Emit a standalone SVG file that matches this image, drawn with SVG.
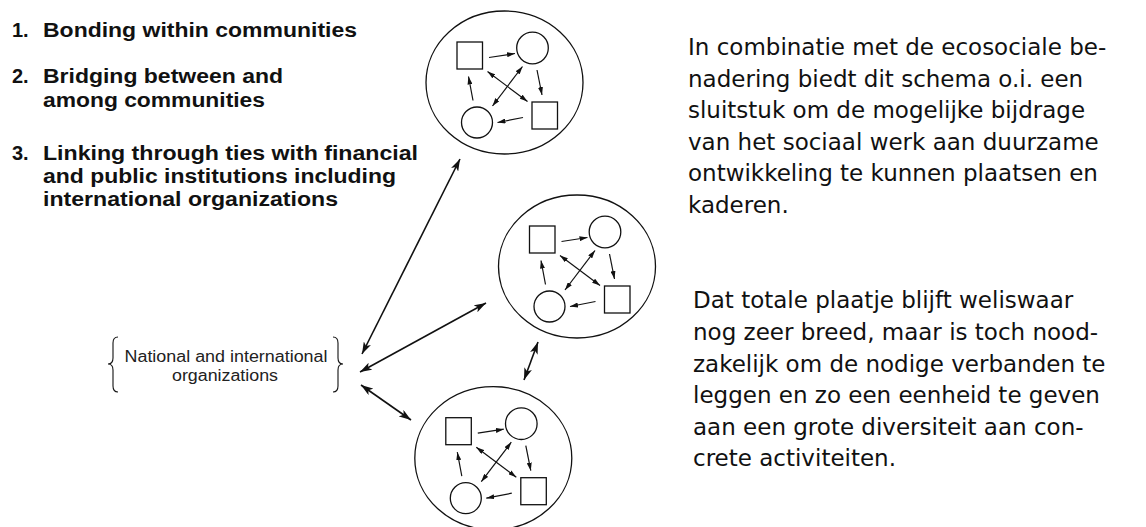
<svg xmlns="http://www.w3.org/2000/svg" xmlns:xlink="http://www.w3.org/1999/xlink" width="1146" height="527" viewBox="0 0 1146 527">
<style>
.list{font-family:"Liberation Sans",Arial,sans-serif;font-weight:bold;font-size:20px;fill:#111}
.lbl{font-family:"Liberation Sans",Arial,sans-serif;font-size:16px;fill:#222}
.body{font-family:"DejaVu Sans",Verdana,sans-serif;font-size:23px;fill:#111}
.shape{fill:none;stroke:#111;stroke-width:1.3}
.ln{fill:none;stroke:#111;stroke-width:1.1}
.big{fill:none;stroke:#111;stroke-width:1.6}
.sm{fill:none;stroke:#111;stroke-width:1.2}
</style>
<defs>
<marker id="ah" viewBox="0 0 12 8" markerUnits="userSpaceOnUse" markerWidth="12" markerHeight="8" refX="12" refY="4" orient="auto-start-reverse"><path d="M0,0 L12,4 L0,8 L3,4 z" fill="#111"/></marker>
<marker id="as" viewBox="0 0 8 5" markerUnits="userSpaceOnUse" markerWidth="8" markerHeight="5" refX="8" refY="2.5" orient="auto-start-reverse"><path d="M0,0 L8,2.5 L0,5 z" fill="#111"/></marker>
<g id="community">
<ellipse cx="0" cy="0" rx="78.5" ry="71.5" class="shape"/>
<rect x="-47.5" y="-40.5" width="25.5" height="27" class="shape"/>
<circle cx="28" cy="-34.5" r="15.8" class="shape"/>
<rect x="27.5" y="19.5" width="25.5" height="27" class="shape"/>
<circle cx="-27.5" cy="40" r="15.5" class="shape"/>
<line x1="-15.5" y1="-25" x2="10.5" y2="-29" class="sm" marker-end="url(#as)"/>
<line x1="32.5" y1="-12.5" x2="37.5" y2="12.5" class="sm" marker-end="url(#as)"/>
<line x1="18.5" y1="35" x2="-7" y2="40" class="sm" marker-end="url(#as)"/>
<line x1="-31.5" y1="18" x2="-36" y2="-6" class="sm" marker-end="url(#as)"/>
<line x1="-17" y1="-11" x2="23" y2="19" class="sm" marker-start="url(#as)" marker-end="url(#as)"/>
<line x1="18" y1="-16" x2="-12" y2="23.5" class="sm" marker-start="url(#as)" marker-end="url(#as)"/>
</g>
</defs>

<g id="list">
<text class="list" x="12" y="37">1.</text>
<text class="list" x="43" y="37" textLength="314" lengthAdjust="spacingAndGlyphs">Bonding within communities</text>
<text class="list" x="12" y="83">2.</text>
<text class="list" x="43" y="83" textLength="240" lengthAdjust="spacingAndGlyphs">Bridging between and</text>
<text class="list" x="43" y="107" textLength="222" lengthAdjust="spacingAndGlyphs">among communities</text>
<text class="list" x="12" y="160">3.</text>
<text class="list" x="43" y="160" textLength="375" lengthAdjust="spacingAndGlyphs">Linking through ties with financial</text>
<text class="list" x="43" y="183" textLength="353" lengthAdjust="spacingAndGlyphs">and public institutions including</text>
<text class="list" x="43" y="206" textLength="295" lengthAdjust="spacingAndGlyphs">international organizations</text>
</g>

<g id="organizations">
<path class="ln" d="M118,337 Q113,337 113,343 L113,358 Q113,364 108,364 Q113,364 113,370 L113,386 Q113,392 118,392"/>
<path class="ln" d="M333,337 Q338,337 338,343 L338,358 Q338,364 343,364 Q338,364 338,370 L338,386 Q338,392 333,392"/>
<text class="lbl" x="124.5" y="362" textLength="203" lengthAdjust="spacingAndGlyphs">National and international</text>
<text class="lbl" x="172" y="381" textLength="106" lengthAdjust="spacingAndGlyphs">organizations</text>
</g>

<g id="community1"><use xlink:href="#community" href="#community" transform="translate(504.5,82.5)"/></g>
<g id="community2"><use xlink:href="#community" href="#community" transform="translate(577,266.5)"/></g>
<g id="community3"><use xlink:href="#community" href="#community" transform="translate(493.3,458.2)"/></g>

<g id="connectors">
<line class="big" x1="362" y1="354" x2="460" y2="159" marker-start="url(#ah)" marker-end="url(#ah)"/>
<line class="big" x1="360" y1="372" x2="486" y2="303" marker-start="url(#ah)" marker-end="url(#ah)"/>
<line class="big" x1="361" y1="385" x2="411" y2="420" marker-start="url(#ah)" marker-end="url(#ah)"/>
<line class="big" x1="538" y1="342" x2="524" y2="380" marker-start="url(#ah)" marker-end="url(#ah)"/>
</g>

<g id="text">
<text class="body" x="688" y="55">In combinatie met de ecosociale be-</text>
<text class="body" x="688" y="86.5">nadering biedt dit schema o.i. een</text>
<text class="body" x="688" y="118">sluitstuk om de mogelijke bijdrage</text>
<text class="body" x="688" y="149.5">van het sociaal werk aan duurzame</text>
<text class="body" x="688" y="181">ontwikkeling te kunnen plaatsen en</text>
<text class="body" x="688" y="212.5">kaderen.</text>
<text class="body" x="693" y="308">Dat totale plaatje blijft weliswaar</text>
<text class="body" x="693" y="340">nog zeer breed, maar is toch nood-</text>
<text class="body" x="693" y="371.5">zakelijk om de nodige verbanden te</text>
<text class="body" x="693" y="403">leggen en zo een eenheid te geven</text>
<text class="body" x="693" y="434.5">aan een grote diversiteit aan con-</text>
<text class="body" x="693" y="466">crete activiteiten.</text>
</g>
</svg>
